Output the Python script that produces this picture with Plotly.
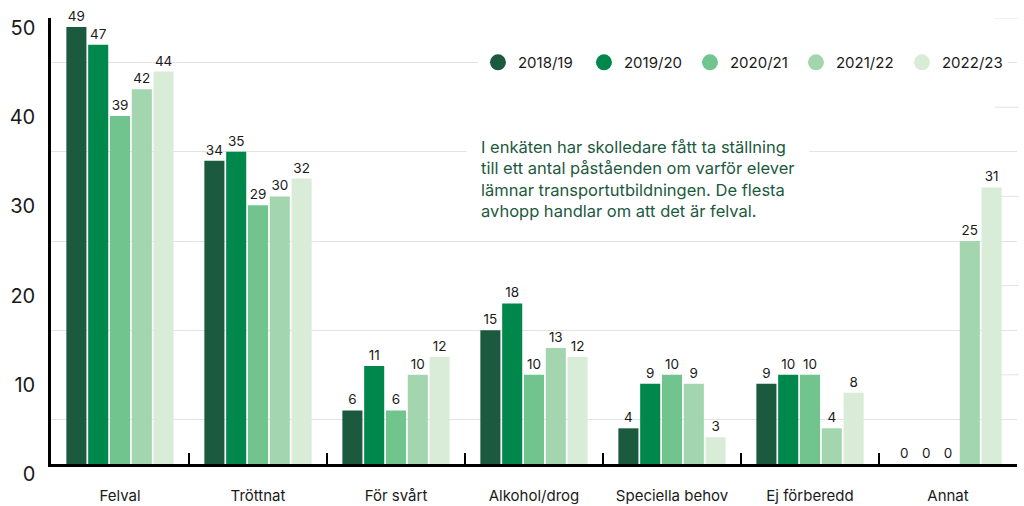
import plotly.graph_objects as go

categories = ["Felval", "Tröttnat", "För svårt", "Alkohol/drog", "Speciella behov", "Ej förberedd", "Annat"]
years = ["2018/19", "2019/20", "2020/21", "2021/22", "2022/23"]
v_2018_19 = [49, 34, 6, 15, 4, 9, 0]
v_2019_20 = [47, 35, 11, 18, 9, 10, 0]
v_2020_21 = [39, 29, 6, 10, 10, 10, 0]
v_2021_22 = [42, 30, 10, 13, 9, 4, 25]
v_2022_23 = [44, 32, 12, 12, 3, 8, 31]
series = [v_2018_19, v_2019_20, v_2020_21, v_2021_22, v_2022_23]
colors = ["#1c5a40", "#00874b", "#72c48e", "#a3d6ae", "#d8ecd8"]

y_labels = [0, 10, 20, 30, 40, 50]
grid_vals = [5, 15, 25, 35, 45]
edge_grid = [10, 20, 30, 40, 50]

note = ("I enkäten har skolledare fått ta ställning<br>till ett antal påståenden om varför elever"
        "<br>lämnar transportutbildningen. De flesta<br>avhopp handlar om att det är felval.")

FONT = "Inter"

fig = go.Figure()
for name, vals, col in zip(years, series, colors):
    fig.add_trace(go.Bar(
        x=categories, y=vals, name=name, marker=dict(color=col, line=dict(width=0)),
        text=[str(v) for v in vals], textposition="outside", cliponaxis=False,
        textfont=dict(family=FONT, size=13.5, color="#1a1a1a"),
        showlegend=False, hoverinfo="x+y+name",
    ))
for name, col in zip(years, colors):
    fig.add_trace(go.Scatter(
        x=[None], y=[None], mode="markers", name=name,
        marker=dict(symbol="circle", size=20, color=col), showlegend=True,
    ))

shapes = []
for v in edge_grid:
    shapes.append(dict(type="line", xref="paper", yref="y", x0=0.977, x1=1.002, y0=v, y1=v,
                       line=dict(color="#e3e3e3", width=1), layer="below"))

fig.update_layout(
    width=1024, height=506,
    margin=dict(l=51, r=7, t=18, b=42, autoexpand=False),
    paper_bgcolor="white", plot_bgcolor="white",
    barmode="group", bargap=0.21, bargroupgap=0.08,
    font=dict(family=FONT, color="#1a1a1a"),
    shapes=shapes,
    legend=dict(
        orientation="h", x=0.442, xanchor="left", y=0.90, yanchor="middle",
        bgcolor="white", font=dict(family=FONT, size=15, color="#1a1a1a"),
        entrywidth=61, entrywidthmode="pixels", itemsizing="trace",
        traceorder="normal",
    ),
    xaxis=dict(
        automargin=False,
        showline=True, linecolor="#000", linewidth=2.5,
        ticks="inside", tickson="boundaries", ticklen=11, tickwidth=2, tickcolor="#000",
        tickfont=dict(family=FONT, size=15, color="#1a1a1a"),
        ticklabelstandoff=16, showgrid=False, zeroline=False,
    ),
    yaxis=dict(
        automargin=False,
        range=[0, 50], showline=True, linecolor="#000", linewidth=2.5,
        tickvals=y_labels, ticktext=[str(v) for v in y_labels],
        tickfont=dict(family=FONT, size=20, color="#1a1a1a"),
        ticks="", showgrid=False, zeroline=False,
        ticklabelshift=10, ticklabelstandoff=9,
        minor=dict(tickvals=grid_vals, showgrid=True, gridcolor="#e3e3e3", gridwidth=1, ticks=""),
    ),
    annotations=[dict(
        text=note, xref="paper", yref="paper", x=(466 - 51) / 966, y=(464 - 122) / 446,
        xanchor="left", yanchor="top", align="left", showarrow=False,
        bgcolor="white", borderpad=14,
        font=dict(family=FONT, size=16.5, color="#1c5a40"),
    )],
)

fig.write_html("out.html", config={"displayModeBar": False},
               post_script="document.body.style.margin='0';")
